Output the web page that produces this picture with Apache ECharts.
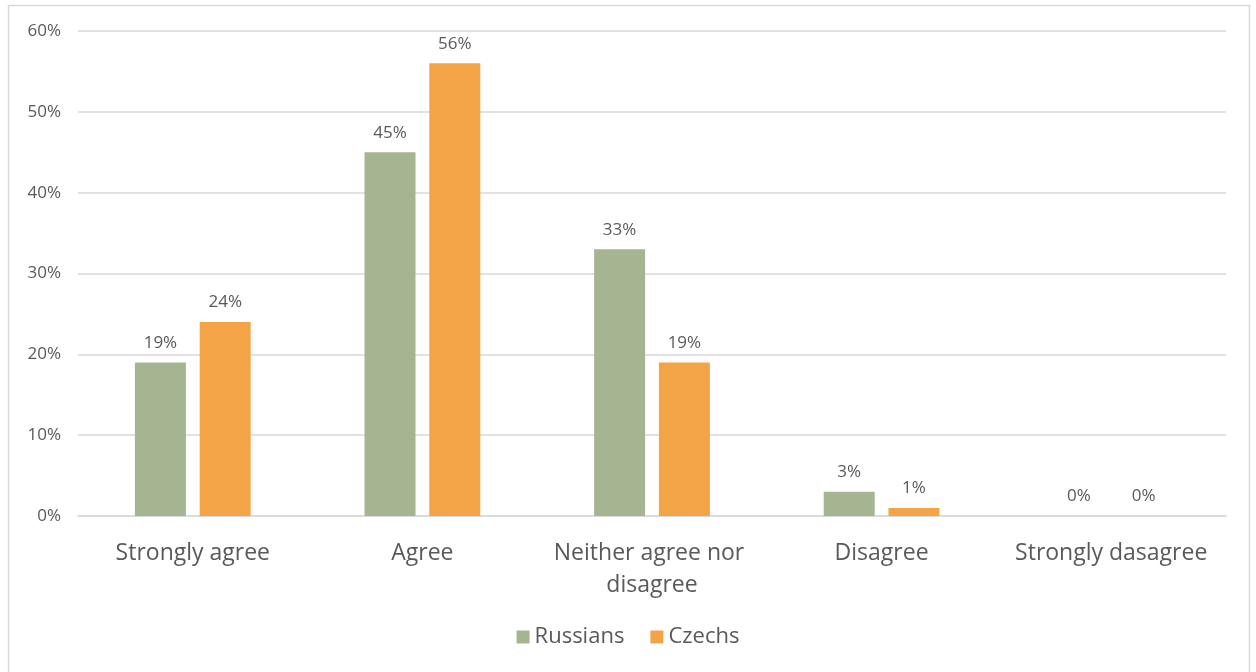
<!DOCTYPE html>
<html>
<head>
<meta charset="utf-8">
<script src="https://cdn.jsdelivr.net/npm/echarts@6/dist/echarts.min.js"></script>
<style>
  html, body { margin: 0; padding: 0; background: #fff; }
  #chart { width: 1256px; height: 672px; }
</style>
</head>
<body>
<div id="chart"></div>
<script>
// Survey answers by group, in percent
const categories = ['Strongly agree', 'Agree', 'Neither agree nor disagree', 'Disagree', 'Strongly dasagree'];
const russians = [19, 45, 33, 3, 0];
const czechs = [24, 56, 19, 1, 0];
const yTicks = [0, 10, 20, 30, 40, 50, 60];

const textColor = '#595959';
const font = '"Open Sans", "Liberation Sans", sans-serif';

const chart = echarts.init(document.getElementById('chart'));

const labelCfg = {
  show: true,
  position: 'top',
  distance: 11,
  color: textColor,
  fontFamily: font,
  fontSize: 17,
  formatter: p => p.value + '%'
};

chart.setOption({
  animation: false,
  textStyle: { fontFamily: font },
  graphic: [{
    type: 'rect',
    shape: { x: 8.5, y: 5.5, width: 1241, height: 680 },
    style: { fill: 'none', stroke: '#D9D9D9', lineWidth: 1.5 },
    silent: true
  }],
  grid: { left: 78, right: 30, top: 31, bottom: 156 },
  legend: {
    bottom: 19,
    left: 'center',
    itemWidth: 13,
    itemHeight: 13,
    itemGap: 26,
    icon: 'rect',
    textStyle: { color: textColor, fontSize: 22, fontFamily: font },
    data: ['Russians', 'Czechs']
  },
  xAxis: {
    type: 'category',
    data: categories,
    axisLine: { lineStyle: { color: '#D9D9D9', width: 1.5 } },
    axisTick: { show: false },
    axisLabel: {
      color: textColor,
      fontSize: 23,
      fontFamily: font,
      margin: 21,
      lineHeight: 32,
      width: 226,
      overflow: 'break',
      interval: 0
    }
  },
  yAxis: {
    type: 'value',
    min: yTicks[0],
    max: yTicks[yTicks.length - 1],
    interval: 10,
    axisLine: { show: false },
    axisTick: { show: false },
    splitLine: { lineStyle: { color: '#D9D9D9', width: 1.5 } },
    axisLabel: {
      color: textColor,
      fontSize: 17,
      fontFamily: font,
      margin: 17,
      formatter: v => v + '%'
    }
  },
  series: [
    {
      name: 'Russians',
      type: 'bar',
      data: russians,
      barWidth: 51,
      barGap: '27%',
      itemStyle: { color: '#A5B592' },
      label: labelCfg
    },
    {
      name: 'Czechs',
      type: 'bar',
      data: czechs,
      barWidth: 51,
      barGap: '27%',
      itemStyle: { color: '#F3A447' },
      label: labelCfg
    }
  ]
});
</script>
</body>
</html>
